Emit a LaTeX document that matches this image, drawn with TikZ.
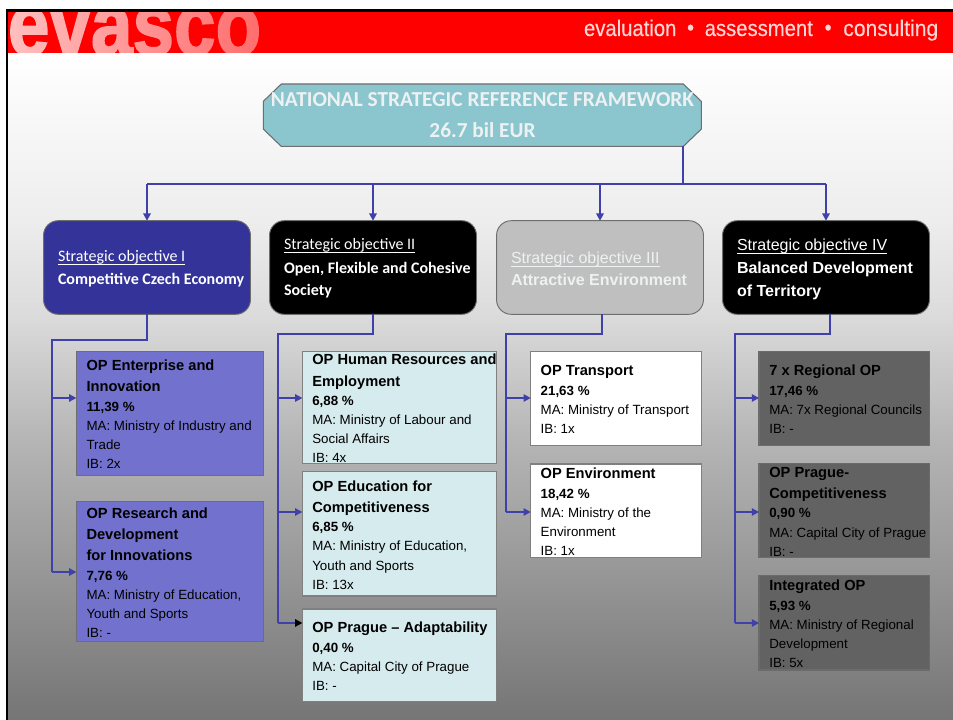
\documentclass[tikz,border=0pt]{standalone}
\usepackage{fontspec}
\setmainfont{Liberation Sans}
\newfontfamily\carl{Carlito}
\newfontfamily\evfont[FakeBold=2]{Liberation Sans Bold}
\newfontfamily\tagfont[FakeBold=0.3]{Liberation Sans}
\usetikzlibrary{arrows.meta,fadings}
\definecolor{cblue}{HTML}{4040AA}
\definecolor{cobj}{HTML}{333399}
\definecolor{cpur}{HTML}{7272CE}
\definecolor{cice}{HTML}{D6EBEE}
\definecolor{cdark}{HTML}{626262}
\definecolor{cteal}{HTML}{8BC6CE}
\definecolor{cedge}{HTML}{6E6E6E}
\definecolor{cgrey}{HTML}{BFBFBF}
\definecolor{cpale}{HTML}{EEF1F1}
\newdimen\pxu \pxu=0.75pt
\newlength\ullen
\newcommand\ulx[1]{\settowidth\ullen{#1}\rlap{\rule[-2.3pt]{\ullen}{0.6pt}}#1}
\newcommand\tl[2]{\vskip#1\pxu\hbox{\smash{#2}}}
\newcommand\txt[1]{\vtop{\offinterlineskip #1}}
\newcommand\ttl[2]{\tl{#1}{\fontsize{11}{11}\selectfont\bfseries #2}}
\newcommand\pct[2]{\tl{#1}{\fontsize{10}{10}\selectfont\bfseries #2}}
\newcommand\reg[2]{\tl{#1}{\fontsize{10}{10}\selectfont #2}}
\newcommand\opbox[7]{%
  \node[opshape,#6,minimum width={(#4-#2)*0.75pt},minimum height={(#5-#3)*0.75pt}] (#1) at ({(#2+#4)/2},{(#3+#5)/2}) {};
  \begin{scope}
    \clip (#1.south west) rectangle (#1.north east);
    #7
  \end{scope}}
\pgfdeclareverticalshading{bgsh}{100bp}{color(0bp)=(black!54); color(25bp)=(black!54); color(46bp)=(black!29); color(55.4bp)=(black!14); color(62.5bp)=(black!7); color(75bp)=(white); color(100bp)=(white)}
\tikzset{
  x=0.75pt,y=-0.75pt,
  conn/.style={draw=cblue,line width=1pt},
  arr/.style={conn,-{Triangle[length=5.4pt,width=5.6pt]}},
  opshape/.style={rectangle,draw=cedge,line width=0.8pt,inner sep=0pt,outer sep=0pt},
  objshape/.style={rectangle,rounded corners=11pt,draw=cedge,line width=0.7pt,inner sep=0pt,outer sep=0pt,minimum width=155.2pt,minimum height=70.2pt},
  line/.style={anchor=base west,inner sep=0pt,outer sep=0pt},
  pur/.style={fill=cpur},
  ice/.style={fill=cice,draw=black!50},
  wht/.style={fill=white,draw=black!50},
  drk/.style={fill=cdark,draw=black!58},
}
\begin{document}
\begin{tikzpicture}
\useasboundingbox (0,0) rectangle (953,720);
\fill[white] (0,0) rectangle (953,720);
\shade[shading=bgsh] (8,53) rectangle (953,720);
% header band
\fill[red] (8,12) rectangle (953,53);
\begin{scope}
  \clip (8,12) rectangle (953,53);
  \node[line,white] (logo) at (8,55) {\scalebox{1}[1.18]{\evfont\fontsize{56}{56}\selectfont evasco}};
  \fill[red,path fading=west] (-188,12) rectangle (596,53);
\end{scope}
\fill[black] (6,9.5) rectangle (953,12);
\fill[black] (6,9.5) rectangle (8,720);
\node[line,text=red!16!white] (tag) at (584,36) {\scalebox{1}[1.12]{\tagfont\fontsize{15.2}{15.2}\selectfont evaluation\hspace{8pt}\raisebox{0.6pt}{\fontsize{15}{15}\selectfont •}\hspace{8pt}assessment\hspace{8.8pt}\raisebox{0.6pt}{\fontsize{15}{15}\selectfont •}\hspace{8.8pt}\scalebox{1.04}[1]{consulting}}};
% title
\node[rectangle,inner sep=0pt,outer sep=0pt,minimum width=328.5pt,minimum height=46.8pt] (title) at (482.3,115.2) {};
\draw[draw=cedge,fill=cteal,line width=0.8pt]
  ([xshift=13.5pt]title.north west) -- ([xshift=-13.5pt]title.north east)
  -- ([yshift=-13pt]title.north east) -- ([yshift=13pt]title.south east)
  -- ([xshift=-13.5pt]title.south east) -- ([xshift=13.5pt]title.south west)
  -- ([yshift=13pt]title.south west) -- ([yshift=-13pt]title.north west) -- cycle;
\node[anchor=base,inner sep=0pt,text=cpale] (titlea) at (482.5,107) {\carl\bfseries\fontsize{16}{16}\selectfont NATIONAL STRATEGIC REFERENCE FRAMEWORK};
\node[anchor=base,inner sep=0pt,text=cpale] (titleb) at (482.5,138) {\carl\bfseries\fontsize{16}{16}\selectfont 26.7 bil EUR};
% objectives
\node[objshape,fill=cobj] (o1) at (147,267.5) {};
\node[objshape,fill=black] (o2) at (373,267.5) {};
\node[objshape,fill=cgrey] (o3) at (600,267.5) {};
\node[objshape,fill=black] (o4) at (826,267.5) {};
\node[line,text=white] (t1) at (58,262) {\carl\txt{\tl{0}{\fontsize{12}{12}\selectfont\ulx{Strategic objective I}}\tl{23}{\fontsize{12}{12}\selectfont\bfseries Competitive Czech Economy}}};
\node[line,text=white] (t2) at (284,250) {\carl\txt{\tl{0}{\fontsize{12}{12}\selectfont\ulx{Strategic objective II}}\tl{23.3}{\fontsize{12}{12}\selectfont\bfseries Open, Flexible and Cohesive}\tl{22.7}{\fontsize{12}{12}\selectfont\bfseries Society}}};
\node[line,text=cpale] (t3) at (511,263.3) {\txt{\tl{0}{\fontsize{12}{12}\selectfont\ulx{Strategic objective III}}\tl{22.7}{\fontsize{12}{12}\selectfont\bfseries Attractive Environment}}};
\node[line,text=white] (t4) at (737,250.7) {\txt{\tl{0}{\fontsize{12}{12}\selectfont\ulx{Strategic objective IV}}\tl{23.3}{\fontsize{12}{12}\selectfont\bfseries Balanced Development}\tl{22.7}{\fontsize{12}{12}\selectfont\bfseries of Territory}}};
% OP boxes
\opbox{e}{76.3}{351.7}{263.3}{475.3}{pur}{\node[line] (et) at (86.5,370) {\txt{\ttl{0}{OP Enterprise and}\ttl{21.3}{Innovation}\pct{20.4}{11,39 \%}\reg{19}{MA: Ministry of Industry and}\reg{19}{Trade}\reg{18.6}{IB: 2x}}};}
\opbox{r}{76.3}{501.7}{263.3}{641.7}{pur}{\node[line] (rt) at (86.5,518) {\txt{\ttl{0}{OP Research and}\ttl{21.3}{Development}\ttl{20.7}{for Innovations}\pct{20.3}{7,76 \%}\reg{19}{MA: Ministry of Education,}\reg{19}{Youth and Sports}\reg{19}{IB: -}}};}
\opbox{h}{302.3}{351.7}{496.3}{463.7}{ice}{\node[line] (ht) at (312.3,364) {\txt{\ttl{0}{OP Human Resources and}\ttl{22}{Employment}\pct{19.3}{6,88 \%}\reg{19}{MA: Ministry of Labour and}\reg{19}{Social Affairs}\reg{19.5}{IB: 4x}}};}
\opbox{d}{302.3}{471.7}{496.3}{596}{ice}{\node[line] (dt) at (312.3,491) {\txt{\ttl{0}{OP Education for}\ttl{21.3}{Competitiveness}\pct{19}{6,85 \%}\reg{19}{MA: Ministry of Education,}\reg{20}{Youth and Sports}\reg{19}{IB: 13x}}};}
\opbox{a}{302.3}{609}{496.3}{701.7}{ice}{\node[line] (at) at (312.3,632) {\txt{\ttl{0}{OP Prague – Adaptability}\pct{20.3}{0,40 \%}\reg{19}{MA: Capital City of Prague}\reg{19}{IB: -}}};}
\opbox{p}{530.7}{351.7}{701.3}{445.3}{wht}{\node[line] (pt) at (540.7,375) {\txt{\ttl{0}{OP Transport}\pct{20.3}{21,63 \%}\reg{19}{MA: Ministry of Transport}\reg{19}{IB: 1x}}};}
\opbox{v}{530.7}{464}{701.3}{557.3}{wht}{\node[line] (vt) at (540.7,478) {\txt{\ttl{0}{OP Environment}\pct{20.3}{18,42 \%}\reg{19}{MA: Ministry of the}\reg{19}{Environment}\reg{19}{IB: 1x}}};}
\opbox{g}{759}{351.7}{929.7}{445.7}{drk}{\node[line] (gt) at (769.3,375) {\txt{\ttl{0}{7 x Regional OP}\pct{20.3}{17,46 \%}\reg{19}{MA: 7x Regional Councils}\reg{19}{IB: -}}};}
\opbox{c}{759}{463.3}{929.7}{557.7}{drk}{\node[line] (ct) at (769.3,477) {\txt{\ttl{0}{OP Prague-}\ttl{21.3}{Competitiveness}\pct{19}{0,90 \%}\reg{20}{MA: Capital City of Prague}\reg{19}{IB: -}}};}
\opbox{i}{759}{575.7}{929.7}{670}{drk}{\node[line] (it) at (769.3,590) {\txt{\ttl{0}{Integrated OP}\pct{20.3}{5,93 \%}\reg{19}{MA: Ministry of Regional}\reg{19}{Development}\reg{19}{IB: 5x}}};}
% top connectors
\coordinate (bus) at (683,184);
\draw[conn] (title.south -| bus) -- (bus);
\draw[conn] (o1.north |- bus) -- (o4.north |- bus);
\draw[conn] (o2.north |- bus) -- (bus);
\foreach \n in {o1,o2,o3,o4} \draw[arr] (\n.north |- bus) -- (\n.north);
% column 1
\coordinate (r1) at (52,340);
\coordinate (j1a) at (52,398);
\coordinate (j1b) at (52,572);
\draw[conn] (o1.south) -- (o1.south |- r1) -- (r1) -- (j1b);
\draw[arr] (j1a) -- (e.west |- j1a);
\draw[arr] (j1b) -- (r.west |- j1b);
% column 2
\coordinate (r2) at (278,334);
\coordinate (j2a) at (278,398);
\coordinate (j2b) at (278,512);
\coordinate (j2c) at (278,623);
\draw[conn] (o2.south) -- (o2.south |- r2) -- (r2) -- (j2c);
\draw[arr] (j2a) -- (h.west |- j2a);
\draw[arr] (j2b) -- (d.west |- j2b);
\draw[conn,-{Triangle[length=5.4pt,width=5.6pt,color=black]}] (j2c) -- (a.west |- j2c);
% column 3
\coordinate (s3) at (602,334);
\coordinate (r3) at (506,334);
\coordinate (j3a) at (506,398);
\coordinate (j3b) at (506,512);
\draw[conn] (s3 |- o3.south) -- (s3) -- (r3) -- (j3b);
\draw[arr] (j3a) -- (p.west |- j3a);
\draw[arr] (j3b) -- (v.west |- j3b);
% column 4
\coordinate (s4) at (830,334);
\coordinate (r4) at (735,334);
\coordinate (j4a) at (735,398);
\coordinate (j4b) at (735,512);
\coordinate (j4c) at (735,623);
\draw[conn] (s4 |- o4.south) -- (s4) -- (r4) -- (j4c);
\draw[arr] (j4a) -- (g.west |- j4a);
\draw[arr] (j4b) -- (c.west |- j4b);
\draw[arr] (j4c) -- (i.west |- j4c);
\end{tikzpicture}
\end{document}
